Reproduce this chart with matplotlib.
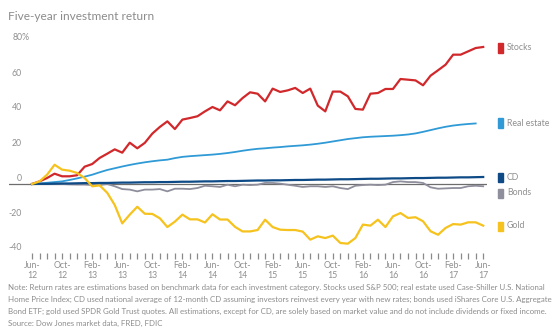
import matplotlib
matplotlib.use("Agg")
import matplotlib.pyplot as plt
import numpy as np

# months since Jun-12 (0..60)
months = np.arange(61)

stocks = [0, 1.5, 3.4, 5.9, 4.4, 4.4, 5.0, 9.9, 11.4, 14.9, 17.3, 19.8, 17.9, 23.6, 20.4, 23.5,
          28.8, 32.6, 35.8, 31.4, 36.8, 37.7, 38.7, 41.5, 44.0, 42.1, 47.2, 45.0, 49.1, 52.4, 51.6,
          47.2, 54.5, 52.6, 53.5, 54.9, 52.0, 54.5, 44.8, 41.5, 52.8, 52.8, 50.1, 42.9, 42.5, 51.6,
          52.0, 54.3, 54.3, 60.0, 59.6, 59.2, 56.4, 61.9, 65.0, 68.2, 73.9, 73.9, 75.8, 77.7, 78.3]

real_estate = [0, 0.3, 0.7, 1.1, 1.5, 2.3, 3.2, 4.2, 5.3, 6.7, 8.0, 9.0, 10.0, 10.9, 11.7, 12.4,
               13.0, 13.5, 13.9, 14.8, 15.5, 15.9, 16.2, 16.5, 16.8, 17.2, 17.7, 18.3, 19.0, 19.6, 20.1,
               20.4, 20.8, 21.1, 21.5, 21.8, 22.1, 22.5, 23.0, 23.6, 24.3, 25.0, 25.7, 26.2, 26.7, 27.0,
               27.2, 27.4, 27.6, 27.9, 28.3, 28.9, 29.8, 30.8, 31.8, 32.7, 33.4, 33.9, 34.3, 34.6]

cd = [0.0, 0.1, 0.1, 0.2, 0.3, 0.3, 0.4, 0.5, 0.5, 0.6, 0.6, 0.7, 0.8, 0.8, 0.9, 1.0,
      1.0, 1.1, 1.1, 1.2, 1.3, 1.3, 1.4, 1.5, 1.5, 1.6, 1.7, 1.7, 1.8, 1.9, 2.0,
      2.0, 2.1, 2.1, 2.2, 2.3, 2.3, 2.4, 2.5, 2.5, 2.6, 2.7, 2.7, 2.8, 2.9, 3.0,
      3.0, 3.1, 3.2, 3.2, 3.3, 3.4, 3.4, 3.5, 3.6, 3.6, 3.7, 3.8, 3.8, 3.9, 4.0]

bonds = [0, 0, 0, 0, 0, -0.2, -0.3, -0.3, -0.6, -0.6, 0, -1.3, -2.9, -3.2, -4.2, -3.2,
         -3.2, -2.9, -4.2, -2.7, -2.7, -2.9, -2.3, -1.0, -1.3, -1.7, -0.4, -1.3, -0.4, -0.6, -0.4,
         0.6, 0.6, 0.2, -0.4, -1.0, -1.7, -1.3, -1.3, -1.7, -1.3, -2.3, -2.9, -1.0, -0.6, -0.4,
         -0.6, -0.4, 1.1, 1.5, 1.1, 1.1, 0.6, -1.9, -2.7, -2.5, -2.3, -2.3, -1.3, -1.0, -1.3]

gold = [0, 1.5, 5.3, 11.0, 8.2, 7.6, 6.3, 3.4, -1.3, -0.8, -5.0, -12.0, -22.5, -17.5, -13.0, -17.0,
        -17.1, -19.6, -24.6, -21.5, -17.5, -20.2, -20.2, -22.0, -17.3, -20.3, -20.3, -24.5, -27.1, -27.1, -26.3,
        -20.4, -24.6, -26.1, -26.3, -26.3, -27.2, -31.8, -29.9, -30.9, -29.5, -33.7, -34.1, -30.9, -23.2, -23.8,
        -20.4, -24.6, -18.5, -16.6, -19.4, -19.0, -21.3, -27.0, -29.0, -25.1, -22.9, -23.2, -21.9, -21.9, -23.8]

month_labels = ["Jun-", "Oct-", "Feb-"] * 5 + ["Jun-"]
year_labels = ["12", "12", "13", "13", "13", "14", "14", "14", "15", "15", "15", "16", "16", "16", "17", "17"]
y_ticks = [-40, -20, 0, 20, 40, 60, 80]
y_labels = ["-40", "-20", "0", "20", "40", "60", "80%"]

series = [
    ("Stocks", stocks, "#d1282b", 1.6, 48),
    ("Real estate", real_estate, "#2f9ad6", 1.3, 123),
    ("CD", cd, "#0d4a86", 1.6, 177),
    ("Bonds", bonds, "#8e8e9c", 1.3, 193),
    ("Gold", gold, "#f6c21d", 1.6, 226),
]

W, H = 552, 335
fig = plt.figure(figsize=(W / 100, H / 100), dpi=100)
plt.rcParams['font.family'] = ['Lato', 'DejaVu Sans']
txt = "#8f8f8f"

def fx(px):
    return px / W

def fy(py):
    return 1 - py / H

# axes: x px 9..487, y px 30..253
x0, x1 = 9, 487
y0, y1 = 30, 253
ax = fig.add_axes([fx(x0), fy(y1), fx(x1) - fx(x0), fy(y0) - fy(y1)])
ax.set_xlim((x0 - 32) / 7.52, (x1 - 32) / 7.52)
ax.set_ylim((184 - y1) / 1.75, (184 - y0) / 1.75)
for s in ax.spines.values():
    s.set_visible(False)

ax.axhline(0, color="#6d6d6d", lw=0.9, zorder=1)

for name, vals, col, lw, ly in series:
    ax.plot(months[:len(vals)], vals, color=col, lw=lw, zorder=3 if name != "Bonds" else 2,
            solid_joinstyle="round")
    fig.patches.append(plt.Rectangle((fx(498), fy(ly + 4.5)), fx(5), 9 / H,
                                     transform=fig.transFigure, color=col))
    fig.text(fx(507), fy(ly), name, color=txt, fontsize=6.3, va="center", ha="left")

ax.set_yticks([])
for v, lab in zip(y_ticks, y_labels):
    xr = 30 if lab.endswith("%") else 22
    fig.text(fx(xr), fy(184 - 1.75 * v - 6), lab, color=txt, fontsize=6.3,
             ha="right", va="center")

ax.set_xticks(months)
ax.set_xticklabels([])
ax.tick_params(axis="x", length=4, width=0.9, color="#8a8a8a", direction="out", pad=1)
for i, m in enumerate(range(0, 61, 4)):
    xp = 32 + 7.52 * m
    fig.text(fx(xp), fy(265), month_labels[i], color=txt, fontsize=6.3, ha="center", va="center")
    fig.text(fx(xp), fy(276), year_labels[i], color=txt, fontsize=6.3, ha="center", va="center")

fig.text(fx(8), fy(16), "Five-year investment return", color="#8c8c8c", fontsize=8.6,
         ha="left", va="center")

notes = [
    "Note: Return rates are estimations based on benchmark data for each investment category. Stocks used S&P 500; real estate used Case-Shiller U.S. National",
    "Home Price Index; CD used national average of 12-month CD assuming investors reinvest every year with new rates; bonds used iShares Core U.S. Aggregate",
    "Bond ETF; gold used SPDR Gold Trust quotes. All estimations, except for CD, are solely based on market value and do not include dividends or fixed income.",
    "Source: Dow Jones market data, FRED, FDIC",
]
for i, line in enumerate(notes):
    fig.text(fx(8), fy(287 + 12 * i), line, color="#8c8c8c", fontsize=5.7, ha="left", va="center")

fig.savefig("out.png", dpi=100)
